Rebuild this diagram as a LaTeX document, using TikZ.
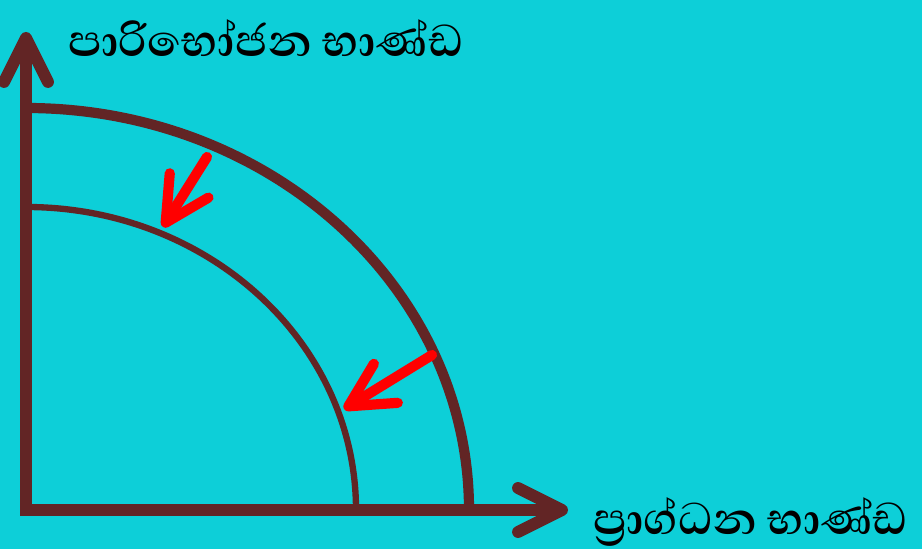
\documentclass[tikz,border=0pt]{standalone}
\usepackage{fontspec}
\usepackage{tikz}
\usetikzlibrary{arrows.meta}
\newfontfamily\sinhala[Script=Sinhala]{Abhaya Libre}
\definecolor{sky}{HTML}{0DCFD8}
\definecolor{axbrown}{HTML}{622525}
\definecolor{shiftred}{HTML}{FF0000}
\tikzset{
  axis/.style={axbrown, line width=3.4pt, line join=miter},
  ppf/.style={axbrown, line width=#1},
  inshift/.style={shiftred, line width=2.9pt, line cap=round,
    -{Straight Barb[round, length=12.5pt, width=13pt]}},
  lbl/.style={font=\sinhala\bfseries\fontsize{16.2}{18}\selectfont, inner sep=0pt}
}

\begin{document}
\begin{tikzpicture}[x=0.01cm, y=0.01cm]
  \fill[sky] (0,0) rectangle (922,549);
  \useasboundingbox (0,0) rectangle (922,549);
  % axes
  \coordinate (O) at (26,39);
  \coordinate (ytop) at (26,517);
  \coordinate (xend) at (568,39);
  \draw[axis, {Straight Barb[round, length=12.5pt, width=12.5pt]}-{Straight Barb[round, length=12.5pt, width=12.5pt]}]
    (ytop) -- (O) -- (xend);
  % production possibility curves
  \draw[ppf=2.9pt] (26,441) arc[start angle=90, end angle=0, x radius=443, y radius=402];
  \draw[ppf=1.8pt] (26,342) arc[start angle=90, end angle=0, x radius=330, y radius=303];
  % inward shift
  \coordinate (a1) at (207,392);
  \coordinate (b1) at (163,322);
  \coordinate (a2) at (432,194);
  \coordinate (b2) at (344,140);
  \draw[inshift] (a1) -- (b1);
  \draw[inshift] (a2) -- (b2);
  % labels
  \node[lbl] (ylab) at (266,511) {පාරිභෝජන භාණ්ඩ};
  \node[lbl] (xlab) at (751,27) {ප්^^^^200dරාග්ධන භාණ්ඩ};
\end{tikzpicture}
\end{document}
